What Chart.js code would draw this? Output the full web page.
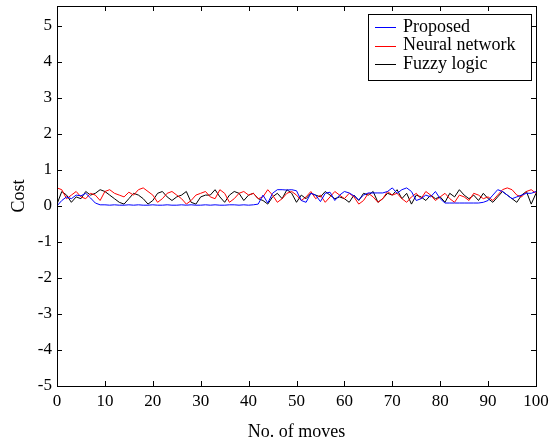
<!DOCTYPE html>
<html><head><meta charset="utf-8">
<script src="https://cdn.jsdelivr.net/npm/chart.js@4/dist/chart.umd.min.js"></script>
<style>html,body{margin:0;padding:0;background:#fff}#wrap{width:557px;height:443px}</style>
</head><body><div id="wrap"><canvas id="c" width="557" height="443"></canvas></div>
<script>
const moves = Array.from({length:101},(_,i)=>i);
const xTicks = [0,10,20,30,40,50,60,70,80,90,100];
const yTicks = [-5,-4,-3,-2,-1,0,1,2,3,4,5];
const seriesNames = ["Proposed","Neural network","Fuzzy logic"];
const proposed = [0.00,0.15,0.25,0.20,0.30,0.28,0.35,0.22,0.08,0.03,
 0.03,0.02,0.03,0.02,0.02,0.03,0.02,0.03,0.02,0.02,
 0.03,0.02,0.02,0.03,0.02,0.02,0.03,0.02,0.03,0.02,
 0.02,0.03,0.02,0.03,0.02,0.02,0.03,0.03,0.02,0.03,
 0.02,0.03,0.05,0.30,0.08,0.35,0.45,0.45,0.44,0.45,
 0.42,0.15,0.10,0.35,0.30,0.12,0.35,0.38,0.15,0.30,
 0.40,0.36,0.28,0.17,0.30,0.36,0.36,0.36,0.36,0.40,
 0.50,0.35,0.45,0.50,0.40,0.15,0.20,0.30,0.25,0.40,
 0.20,0.08,0.08,0.08,0.08,0.08,0.08,0.08,0.08,0.10,
 0.15,0.30,0.45,0.40,0.30,0.20,0.25,0.30,0.35,0.35,0.40];
const neural = [0.50,0.45,0.20,0.30,0.40,0.25,0.20,0.35,0.30,0.15,
 0.40,0.45,0.35,0.30,0.25,0.38,0.30,0.45,0.50,0.40,
 0.30,0.10,0.20,0.35,0.40,0.30,0.20,0.05,0.15,0.30,
 0.35,0.40,0.25,0.20,0.45,0.35,0.10,0.20,0.35,0.40,
 0.30,0.35,0.20,0.25,0.45,0.30,0.10,0.20,0.35,0.40,
 0.30,0.15,0.25,0.40,0.20,0.30,0.10,0.25,0.40,0.30,
 0.20,0.35,0.25,0.05,0.15,0.35,0.25,0.10,0.20,0.40,
 0.30,0.35,0.20,0.10,0.25,0.35,0.20,0.40,0.30,0.15,
 0.25,0.35,0.20,0.10,0.30,0.25,0.15,0.35,0.30,0.20,
 0.25,0.15,0.30,0.45,0.50,0.45,0.30,0.25,0.40,0.45,0.35];
const fuzzy = [0.05,0.40,0.30,0.10,0.25,0.20,0.40,0.30,0.35,0.45,
 0.40,0.30,0.20,0.10,0.05,0.20,0.35,0.30,0.20,0.05,
 0.15,0.35,0.40,0.25,0.15,0.25,0.30,0.40,0.10,0.05,
 0.25,0.30,0.30,0.45,0.25,0.10,0.30,0.40,0.35,0.15,
 0.30,0.35,0.20,0.15,0.05,0.25,0.35,0.20,0.45,0.35,
 0.10,0.30,0.20,0.35,0.30,0.25,0.40,0.30,0.20,0.25,
 0.20,0.10,0.30,0.15,0.35,0.30,0.40,0.10,0.20,0.35,
 0.30,0.45,0.20,0.35,0.05,0.30,0.25,0.15,0.30,0.20,
 0.25,0.10,0.35,0.25,0.45,0.30,0.20,0.30,0.15,0.35,
 0.20,0.10,0.25,0.40,0.30,0.20,0.10,0.30,0.40,0.05,0.35];
const colors = ["#0000ff","#ff0000","#000000"];

const FONT = "Liberation Serif";

const framePlugin = {
  id:'frame',
  afterDraw(chart){
    const {ctx, chartArea:a, scales} = chart;
    ctx.save();
    ctx.strokeStyle='#000'; ctx.lineWidth=1;
    ctx.strokeRect(Math.round(a.left)+0.5, Math.round(a.top)+0.5, Math.round(a.right-a.left), Math.round(a.bottom-a.top));
    const tl=5;
    ctx.beginPath();
    xTicks.forEach(v=>{
      const x=Math.round(scales.x.getPixelForValue(v))+0.5;
      ctx.moveTo(x,a.bottom); ctx.lineTo(x,a.bottom-tl);
      ctx.moveTo(x,a.top); ctx.lineTo(x,a.top+tl);
    });
    yTicks.forEach(v=>{
      const y=Math.round(scales.y.getPixelForValue(v))+0.5;
      ctx.moveTo(a.left,y); ctx.lineTo(a.left+tl,y);
      ctx.moveTo(a.right,y); ctx.lineTo(a.right-tl,y);
    });
    ctx.stroke();
    // legend box
    const bx=368.5, by=14.5, bw=163, bh=66;
    ctx.fillStyle='#fff';
    ctx.fillRect(bx,by,bw,bh);
    ctx.strokeRect(bx,by,bw,bh);
    ctx.font = "18px '"+FONT+"'";
    ctx.textBaseline='middle';
    chart.data.datasets.forEach((ds,i)=>{
      const y = 27 + i*18.5;
      ctx.strokeStyle=ds.borderColor;
      ctx.beginPath(); ctx.moveTo(375,Math.round(y)+0.5); ctx.lineTo(396,Math.round(y)+0.5); ctx.stroke();
      ctx.fillStyle='#000';
      ctx.fillText(ds.label, 403, y);
    });
    ctx.restore();
  }
};

new Chart(document.getElementById('c'), {
  type:'line',
  data:{
    labels: moves,
    datasets:[
      {label:seriesNames[0], data:proposed, borderColor:colors[0]},
      {label:seriesNames[1], data:neural, borderColor:colors[1]},
      {label:seriesNames[2], data:fuzzy, borderColor:colors[2]}
    ].map(d=>Object.assign(d,{borderWidth:1, pointRadius:0, fill:false, tension:0}))
  },
  options:{
    responsive:false, animation:false,
    layout:{padding:{top:6,right:21,left:0,bottom:0}},
    plugins:{legend:{display:false}, tooltip:{enabled:false}},
    scales:{
      x:{type:'linear', min:0, max:100,
        afterBuildTicks(s){ s.ticks = xTicks.map(v=>({value:v})); },
        afterFit(s){ s.height = 57; s.paddingLeft=0; s.paddingRight=0; },
        grid:{display:false, drawTicks:false}, border:{display:false},
        ticks:{color:'#000', font:{family:FONT,size:17}, padding:5, maxRotation:0},
        title:{display:true, text:'No. of moves', color:'#000', font:{family:FONT,size:18}, padding:{top:6,bottom:0}}
      },
      y:{type:'linear', min:-5, max:5.55,
        afterBuildTicks(s){ s.ticks = yTicks.map(v=>({value:v})); },
        afterFit(s){ s.width = 57; s.paddingTop=0; s.paddingBottom=0; },
        grid:{display:false, drawTicks:false}, border:{display:false},
        ticks:{color:'#000', font:{family:FONT,size:17}, padding:5},
        title:{display:true, text:'Cost', color:'#000', font:{family:FONT,size:18}, padding:{top:8,bottom:0}}
      }
    }
  },
  plugins:[framePlugin]
});
</script></body></html>
